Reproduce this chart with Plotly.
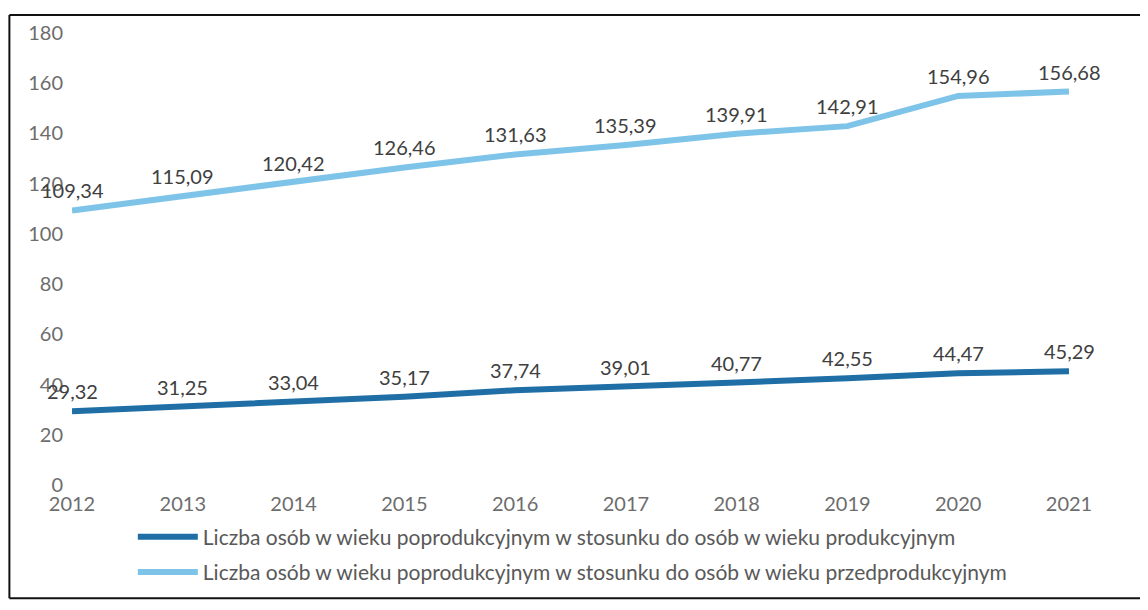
import plotly.graph_objects as go

years = ["2012", "2013", "2014", "2015", "2016", "2017", "2018", "2019", "2020", "2021"]
poprod_vs_prod = [29.32, 31.25, 33.04, 35.17, 37.74, 39.01, 40.77, 42.55, 44.47, 45.29]
poprod_vs_przedprod = [109.34, 115.09, 120.42, 126.46, 131.63, 135.39, 139.91, 142.91, 154.96, 156.68]
y_ticks = [0, 20, 40, 60, 80, 100, 120, 140, 160, 180]

name_1 = "Liczba osób w wieku poprodukcyjnym w stosunku do osób w wieku produkcyjnym"
name_2 = "Liczba osób w wieku poprodukcyjnym w stosunku do osób w wieku przedprodukcyjnym"

dark = "#1f6fa6"
light = "#7ec4e8"
FONT = "Lato"

fig = go.Figure()
fig.add_trace(go.Scatter(x=years, y=poprod_vs_prod, mode="lines", name=name_1,
                         legendgroup="a", line=dict(color=dark, width=6)))
fig.add_trace(go.Scatter(x=years, y=poprod_vs_przedprod, mode="lines", name=name_2,
                         legendgroup="b", line=dict(color=light, width=6)))

# data labels, polish decimal comma (category axis -> index positions)
for series in (poprod_vs_prod, poprod_vs_przedprod):
    for i, v in enumerate(series):
        fig.add_annotation(x=i, y=v, text=f"{v:.2f}".replace(".", ","),
                           showarrow=False, yshift=20,
                           font=dict(family=FONT, size=20, color="#404040"))

# frame of the scanned chart (left, top, bottom)
frame = dict(type="line", xref="paper", yref="paper", line=dict(color="#111111", width=2))
fig.add_shape(x0=-0.0628, x1=1.1, y0=1.0396, y1=1.0396, **frame)
fig.add_shape(x0=-0.0628, x1=-0.0628, y0=1.0396, y1=-0.2505, **frame)
fig.add_shape(x0=-0.0628, x1=1.1, y0=-0.2505, y1=-0.2505, **frame)

fig.update_layout(
    width=1148, height=610,
    margin=dict(l=64, r=87, t=22, b=133),
    paper_bgcolor="white", plot_bgcolor="white",
    font=dict(family=FONT, size=20, color="#6d6d6d"),
    showlegend=True,
    legend=dict(orientation="v", x=0.061, xanchor="left", y=-0.07, yanchor="top",
                font=dict(family=FONT, size=21, color="#595959"),
                tracegroupgap=5, itemwidth=60),
)
fig.update_xaxes(type="category", range=[0, 9], showgrid=False, showline=False,
                 zeroline=False, ticks="", ticklabelstandoff=5)
fig.update_yaxes(range=[0, 180], tickvals=y_ticks, showgrid=False, showline=False,
                 zeroline=False, ticks="", ticklabelstandoff=8)

fig.write_html("out.html")
